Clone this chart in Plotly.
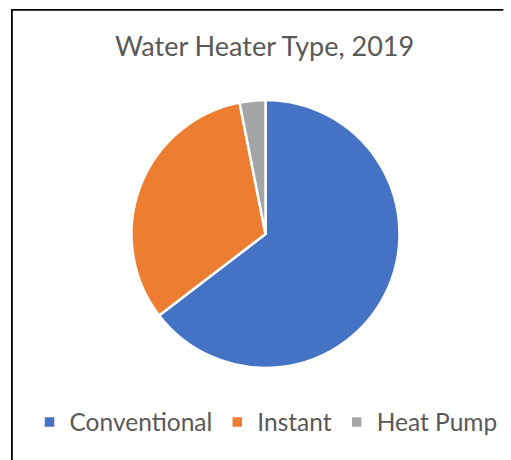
import plotly.graph_objects as go

labels = ["Conventional", "Instant", "Heat Pump"]
values = [64.6, 32.3, 3.1]
colors = ["#4472C4", "#ED7D31", "#A5A5A5"]
title_text = "Water Heater Type, 2019"

W, H = 511, 460
cx, cy, r = 265.5, 234, 134

fig = go.Figure(go.Pie(
    labels=labels, values=values, sort=False, direction="clockwise", rotation=0,
    marker=dict(colors=colors, line=dict(color="white", width=2.5)),
    textinfo="none", hoverinfo="label+percent",
    domain=dict(x=[(cx - r) / W, (cx + r) / W], y=[(H - cy - r) / H, (H - cy + r) / H]),
))

fig.update_layout(
    width=W, height=H, margin=dict(l=0, r=0, t=0, b=0),
    paper_bgcolor="white", plot_bgcolor="white",
    font=dict(family="Lato", color="#595959"),
    title=dict(text=title_text, x=264.5 / W, xanchor="center", y=1 - 47 / H, yanchor="middle",
               font=dict(size=27, color="#595959", family="Lato")),
    legend=dict(orientation="h", x=266 / W, xanchor="center", y=38 / H, yanchor="middle",
                font=dict(size=24.5, color="#595959", family="Lato"), itemclick=False),
    shapes=[
        dict(type="rect", xref="paper", yref="paper", x0=11 / W, x1=12.8 / W, y0=0, y1=1 - 9 / H,
             fillcolor="black", line=dict(width=0)),
        dict(type="rect", xref="paper", yref="paper", x0=11 / W, x1=0.985, y0=1 - 10.8 / H, y1=1 - 9 / H,
             fillcolor="black", line=dict(width=0)),
    ],
)

fig.write_html(
    "out.html",
    config={"displayModeBar": False},
    post_script="document.body.style.margin='0';document.body.style.overflow='hidden';",
)
